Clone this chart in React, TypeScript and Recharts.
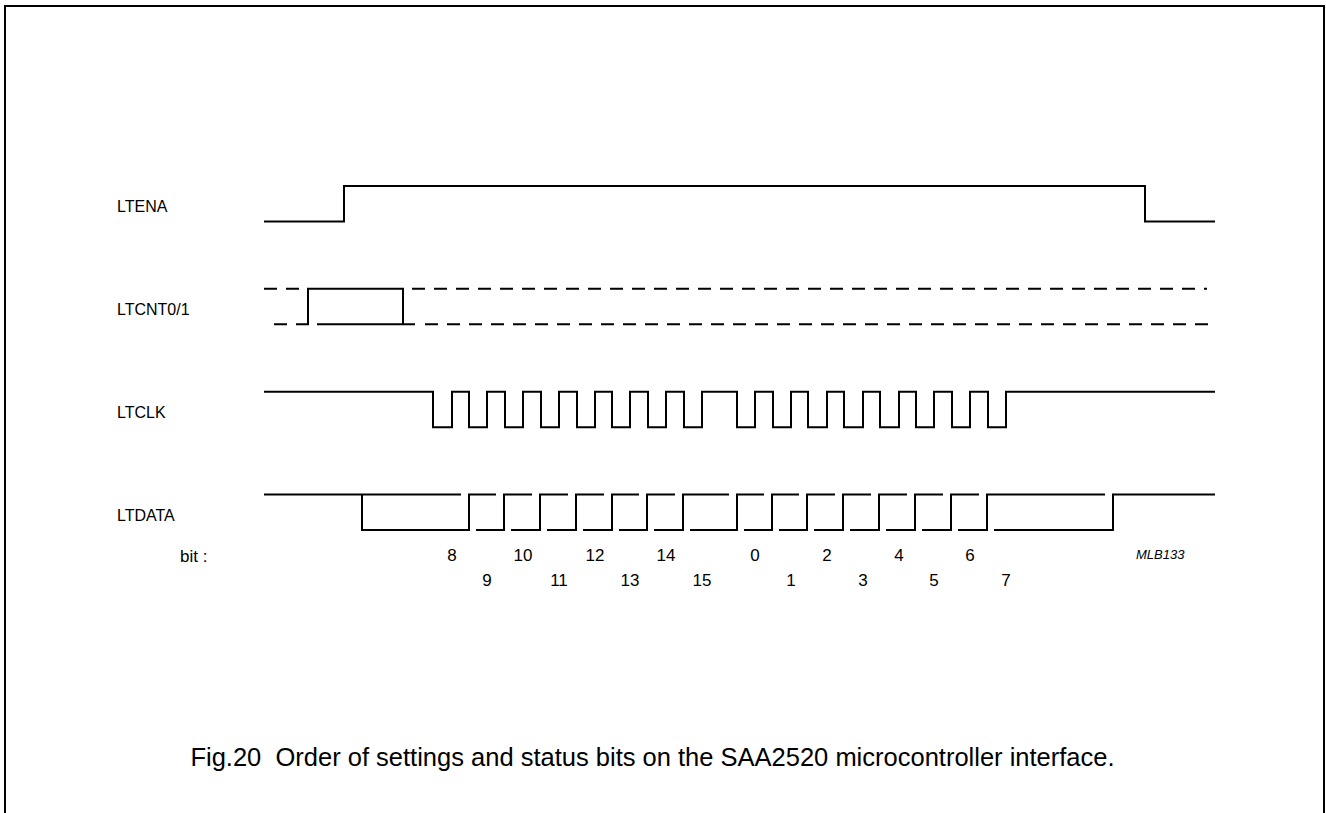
import React from 'react';
import { ComposedChart, Line, Scatter, XAxis, YAxis } from 'recharts';

// time axis: edges, in drawing units
const T_START = 264;
const T_END = 1215;

const rowNames = ['LTENA', 'LTCNT0/1', 'LTCLK', 'LTDATA'];
const rowBase = [8.7, 5.8, 2.9, 0];

const enaEdges = [344, 1145];

const cntWindow = [308, 403];
const cntSolidLow = [317, 415];
const cntDashTop = [[264, 308], [412, 1207]];
const cntDashBottom = [[274, 309], [425, 1215]];

const clkFalls = [433, 469, 505, 541, 577, 612, 648, 684, 737, 773, 808, 844, 880, 916, 952, 988];
const clkRises = [452, 487, 523, 559, 595, 630, 666, 702, 755, 791, 827, 863, 899, 934, 970, 1006];

const dataFall = 362;
const dataRises = [469, 504, 540, 576, 612, 647, 683, 737, 772, 807, 843, 879, 915, 951, 987, 1113];

const bitsUpper = [8, 10, 12, 14, 0, 2, 4, 6];
const bitsLower = [9, 11, 13, 15, 1, 3, 5, 7];

// layout
const W = 1326;
const H = 813;
const UNIT = 35.46; // px per level step
const Y_ZERO = 530; // px of LTDATA low level
const Y_MIN = -2;
const Y_MAX = 10.2;
const X_MIN = 250;
const X_MAX = 1230;
const AXIS_W = 150;
const FONT = '"Liberation Sans", Arial, Helvetica, sans-serif';

type Pt = { t: number; v: number };

const toPts = (pts: number[][], base: number): Pt[] => pts.map(([t, s]) => ({ t, v: base + s }));

const stepWave = (start: number, end: number, level: number, edges: number[]) => {
  const pts: number[][] = [[start, level]];
  let l = level;
  edges.forEach(e => {
    pts.push([e, l]);
    l = 1 - l;
    pts.push([e, l]);
  });
  pts.push([end, l]);
  return pts;
};

const solid: Pt[][] = [];
const dashed: Pt[][] = [];

// LTENA
solid.push(toPts(stepWave(T_START, T_END, 0, enaEdges), rowBase[0]));

// LTCNT0/1
cntDashTop.forEach(([a, b]) => dashed.push(toPts([[a, 1], [b, 1]], rowBase[1])));
cntDashBottom.forEach(([a, b]) => dashed.push(toPts([[a, 0], [b, 0]], rowBase[1])));
solid.push(toPts([[cntWindow[0], 0], [cntWindow[0], 1], [cntWindow[1], 1], [cntWindow[1], 0]], rowBase[1]));
solid.push(toPts([[cntSolidLow[0], 0], [cntSolidLow[1], 0]], rowBase[1]));

// LTCLK
const clkEdges = [...clkFalls, ...clkRises].sort((a, b) => a - b);
solid.push(toPts(stepWave(T_START, T_END, 1, clkEdges), rowBase[2]));

// LTDATA
const GAP_TOP = 8;
const GAP_LOW = 7;
solid.push(toPts([[T_START, 1], [dataRises[0] - GAP_TOP, 1]], rowBase[3]));
solid.push(toPts([[dataFall, 1], [dataFall, 0], [dataRises[0], 0], [dataRises[0], 1], [dataRises[1] - GAP_TOP, 1]], rowBase[3]));
for (let i = 1; i < dataRises.length; i++) {
  const end = i === dataRises.length - 1 ? T_END : dataRises[i + 1] - GAP_TOP;
  solid.push(toPts([[dataRises[i - 1] + GAP_LOW, 0], [dataRises[i], 0], [dataRises[i], 1], [end, 1]], rowBase[3]));
}

// bit numbers sit under the clock rises
const bitData = [
  ...bitsUpper.map((b, i) => ({ t: clkRises[i * 2], v: -0.72, bit: b })),
  ...bitsLower.map((b, i) => ({ t: clkRises[i * 2 + 1], v: -1.42, bit: b })),
];

const rowTicks = rowBase.map(b => b + 0.5);

const RowTick = (props: any) => {
  const idx = rowTicks.findIndex(v => Math.abs(v - props.payload.value) < 1e-6);
  return (
    <text x={117} y={props.y + 3} dominantBaseline="central" textAnchor="start" fontSize={16} fontFamily={FONT} fill="#000">
      {rowNames[idx]}
    </text>
  );
};

const BitLabel = (props: any) => (
  <text x={props.cx} y={props.cy} textAnchor="middle" dominantBaseline="central" fontSize={17} fontFamily={FONT} fill="#000">
    {props.payload.bit}
  </text>
);

const top = Y_ZERO - Y_MAX * UNIT;
const bottom = H - (Y_ZERO - Y_MIN * UNIT);

export default function App() {
  return (
    <div style={{ position: 'absolute', left: 0, top: 0, width: W, height: H, overflow: 'hidden', background: '#fff', fontFamily: FONT }}>
      <div style={{ position: 'absolute', left: 4, top: 5, width: 1321, height: 900, boxSizing: 'border-box', border: '2px solid #000' }} />
      <ComposedChart
        width={W}
        height={H}
        margin={{ top, bottom, left: X_MIN - AXIS_W, right: W - X_MAX }}
        style={{ position: 'absolute', left: 0, top: 0 }}
      >
        <XAxis type="number" dataKey="t" domain={[X_MIN, X_MAX]} hide allowDataOverflow />
        <YAxis
          type="number"
          domain={[Y_MIN, Y_MAX]}
          ticks={rowTicks}
          width={AXIS_W}
          axisLine={false}
          tickLine={false}
          tick={RowTick}
          allowDataOverflow
        />
        {dashed.map((d, i) => (
          <Line key={'d' + i} data={d} dataKey="v" type="linear" stroke="#000" strokeWidth={2}
            strokeDasharray="13 9" dot={false} activeDot={false} isAnimationActive={false} />
        ))}
        {solid.map((d, i) => (
          <Line key={'s' + i} data={d} dataKey="v" type="linear" stroke="#000" strokeWidth={2}
            dot={false} activeDot={false} isAnimationActive={false} />
        ))}
        <Scatter data={bitData} dataKey="v" shape={BitLabel} isAnimationActive={false} />
      </ComposedChart>
      <div style={{ position: 'absolute', left: 180, top: 547, fontSize: 17, lineHeight: '20px' }}>bit :</div>
      <div style={{ position: 'absolute', left: 1136, top: 547, fontSize: 13, lineHeight: '16px', fontStyle: 'italic' }}>MLB133</div>
      <div style={{ position: 'absolute', left: 0, width: 1305, top: 742, fontSize: 25.5, lineHeight: '30px', textAlign: 'center' }}>
        Fig.20&nbsp;&nbsp;Order of settings and status bits on the SAA2520 microcontroller interface.
      </div>
    </div>
  );
}
